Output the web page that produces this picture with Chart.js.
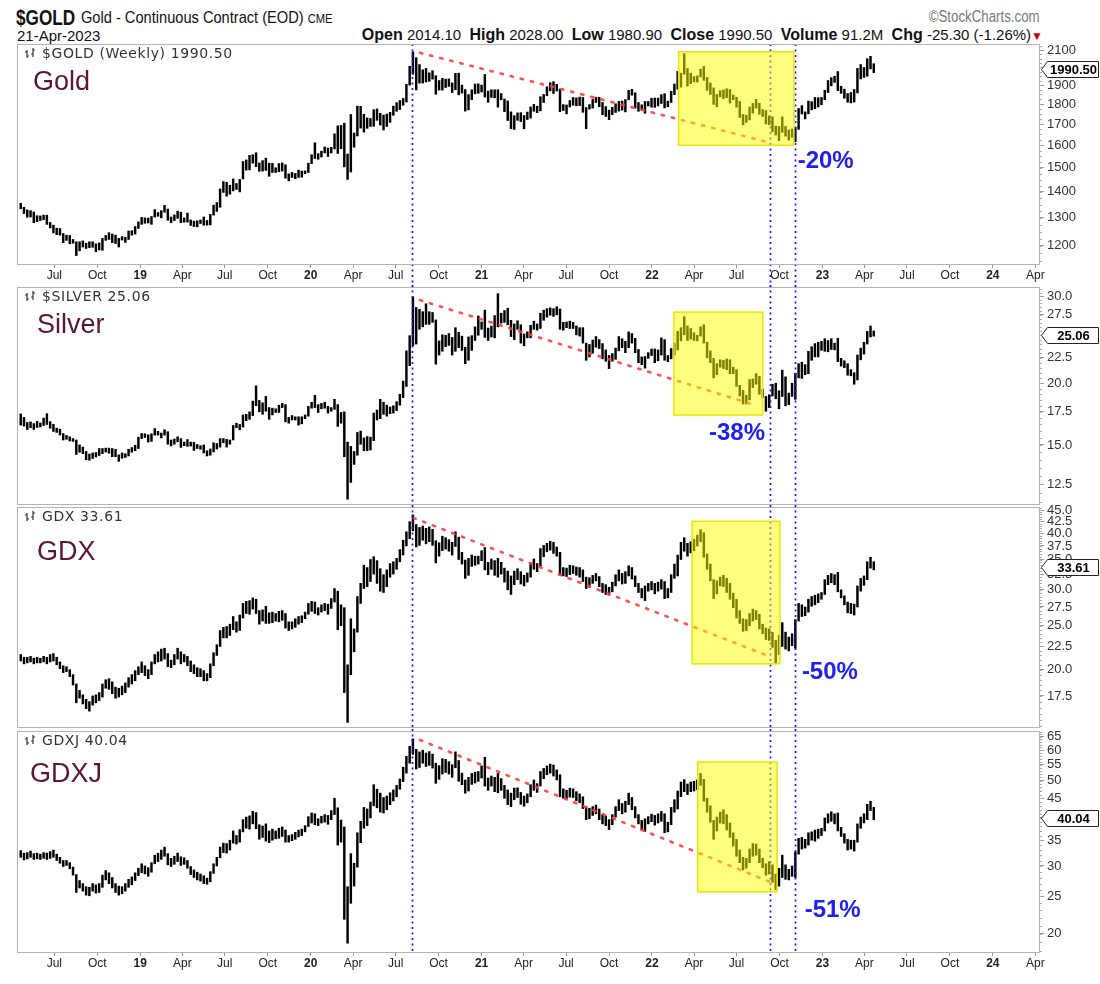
<!DOCTYPE html>
<html>
<head>
<meta charset="utf-8">
<script src="https://cdn.jsdelivr.net/npm/chart.js@4.4.1/dist/chart.umd.min.js"></script>
<style>
  body { margin: 0; background: #fff; width: 1100px; height: 984px; position: relative; overflow: hidden; }
  canvas { position: absolute; left: 0; }
  .t { position: absolute; white-space: nowrap; color: #111; font-family: "Liberation Sans", Arial, sans-serif; }
  .t b { font-weight: bold; }
</style>
</head>
<body>
<div class="t" style="left:16px;top:5px;font-size:22px;font-weight:bold;transform:scaleX(0.78);transform-origin:left top">$GOLD</div>
<div class="t" style="left:81px;top:8px;font-size:17px;transform:scaleX(0.86);transform-origin:left top">Gold - Continuous Contract (EOD) <span style="font-size:13px">CME</span></div>
<div class="t" style="right:60px;top:8px;font-size:16px;color:#777;transform:scaleX(0.83);transform-origin:right top">©StockCharts.com</div>
<div class="t" style="left:17px;top:27px;font-size:15px">21-Apr-2023</div>
<div class="t" style="right:57px;top:26px;font-size:15px"><b style="font-size:16px">Open</b> 2014.10&nbsp; <b style="font-size:16px">High</b> 2028.00&nbsp; <b style="font-size:16px">Low</b> 1980.90&nbsp; <b style="font-size:16px">Close</b> 1990.50&nbsp; <b style="font-size:16px">Volume</b> 91.2M&nbsp; <b style="font-size:16px">Chg</b> -25.30 (-1.26%)<span style="color:#c00;font-size:12px">&#9660;</span></div>

<canvas id="c1"></canvas>
<canvas id="c2"></canvas>
<canvas id="c3"></canvas>
<canvas id="c4"></canvas>

<script>
// ---- weekly bars, [low, high], first bar is the week ending 2018-04-20 ----
const firstWeek = '2018-04-20';

const goldHL = [
  [1334,1355],[1316,1340],[1302,1330],[1303,1327],[1282,1322],[1286,1308],[1290,1307],[1293,1310],[1276,1310],[1263,1283],
  [1245,1273],[1239,1262],[1237,1261],[1211,1243],[1219,1237],[1207,1236],[1209,1222],[1167,1214],[1183,1214],[1196,1217],
  [1191,1209],[1194,1214],[1195,1214],[1180,1207],[1186,1210],[1185,1226],[1219,1236],[1222,1246],[1211,1241],[1208,1237],
  [1196,1226],[1220,1232],[1212,1230],[1222,1252],[1237,1253],[1241,1268],[1261,1285],[1276,1302],[1280,1300],[1281,1299],
  [1276,1305],[1303,1331],[1306,1320],[1300,1327],[1321,1347],[1291,1333],[1282,1303],[1290,1311],[1298,1325],[1282,1321],
  [1284,1300],[1284,1318],[1272,1292],[1268,1288],[1267,1289],[1279,1292],[1273,1303],[1273,1290],[1274,1313],[1310,1348],
  [1324,1358],[1340,1412],[1398,1442],[1383,1439],[1391,1427],[1404,1453],[1410,1434],[1400,1451],[1453,1527],[1490,1534],
  [1491,1554],[1520,1557],[1505,1566],[1485,1521],[1486,1531],[1489,1542],[1464,1520],[1480,1519],[1480,1500],[1483,1518],
  [1486,1521],[1456,1513],[1445,1474],[1459,1480],[1454,1476],[1459,1490],[1460,1486],[1475,1487],[1480,1520],[1518,1557],
  [1540,1611],[1537,1562],[1547,1573],[1565,1592],[1549,1587],[1565,1590],[1583,1653],[1563,1691],[1584,1693],[1504,1704],
  [1451,1560],[1482,1747],[1591,1657],[1643,1789],[1680,1788],[1661,1748],[1679,1730],[1688,1727],[1689,1771],[1718,1775],
  [1695,1753],[1671,1744],[1688,1749],[1708,1758],[1743,1789],[1763,1807],[1772,1818],[1794,1829],[1810,1904],[1900,2005],
  [1960,2089],[1874,2055],[1911,2015],[1911,1985],[1917,1993],[1921,1968],[1933,1980],[1851,1952],[1873,1925],[1873,1937],
  [1887,1933],[1893,1934],[1860,1912],[1875,1965],[1848,1966],[1857,1900],[1764,1876],[1770,1849],[1823,1875],[1853,1906],
  [1856,1907],[1863,1900],[1836,1959],[1809,1868],[1834,1875],[1832,1875],[1784,1875],[1822,1855],[1761,1826],[1717,1816],
  [1677,1760],[1674,1741],[1718,1755],[1712,1756],[1677,1742],[1722,1759],[1729,1785],[1763,1798],[1756,1789],[1765,1838],
  [1808,1850],[1843,1891],[1869,1913],[1855,1919],[1868,1904],[1761,1879],[1767,1797],[1750,1795],[1785,1818],[1794,1834],
  [1791,1832],[1792,1836],[1758,1834],[1677,1782],[1774,1797],[1779,1824],[1808,1834],[1786,1835],[1746,1808],[1737,1787],
  [1721,1769],[1746,1783],[1757,1801],[1764,1814],[1769,1815],[1760,1823],[1822,1872],[1846,1877],[1779,1859],[1763,1808],
  [1770,1796],[1753,1813],[1790,1813],[1784,1830],[1783,1831],[1790,1831],[1803,1849],[1780,1854],[1786,1815],[1808,1866],
  [1849,1906],[1878,1976],[1889,1966],[1960,2078],[1895,1992],[1908,1966],[1918,1947],[1917,1951],[1945,1989],[1926,2004],
  [1872,1942],[1850,1912],[1798,1885],[1786,1850],[1837,1870],[1828,1874],[1833,1880],[1805,1876],[1822,1847],[1784,1835],
  [1732,1813],[1696,1747],[1708,1743],[1720,1784],[1754,1803],[1779,1824],[1748,1804],[1737,1772],[1700,1767],[1697,1740],
  [1663,1735],[1647,1690],[1621,1688],[1660,1735],[1642,1688],[1623,1671],[1636,1676],[1616,1683],[1674,1777],[1749,1792],
  [1725,1760],[1750,1815],[1770,1812],[1776,1834],[1785,1833],[1796,1834],[1823,1872],[1860,1925],[1896,1941],[1915,1949],
  [1870,1975],[1856,1894],[1830,1878],[1809,1855],[1806,1860],[1810,1876],[1858,1993],[1934,2015],[1942,1998],[1949,2049],
  [1990,2063],[1969,2020]
];

const silverHL = [
  [16.45,17.33],[16.37,17.05],[16.11,16.66],[16.25,16.70],[16.12,16.57],[16.27,16.75],[16.31,16.62],[16.42,17.00],[16.50,17.35],[16.21,16.72],
  [15.97,16.52],[15.90,16.22],[15.71,16.15],[15.35,15.82],[15.40,15.68],[15.28,15.58],[15.25,15.45],[14.35,15.35],[14.50,15.00],[14.40,14.85],
  [14.00,14.55],[13.97,14.38],[14.08,14.45],[14.18,14.48],[14.28,14.75],[14.40,14.75],[14.51,14.78],[14.43,14.78],[14.20,14.75],[14.20,14.70],
  [13.90,14.32],[14.10,14.45],[14.15,14.40],[14.25,14.70],[14.50,14.82],[14.60,14.98],[14.75,15.55],[15.45,15.82],[15.53,15.80],[15.20,15.72],
  [15.25,15.80],[15.70,16.19],[15.70,15.98],[15.50,15.85],[15.70,16.10],[15.05,15.95],[14.93,15.35],[15.05,15.42],[15.22,15.58],[14.83,15.45],
  [14.95,15.20],[14.90,15.38],[14.92,15.20],[14.62,15.18],[14.75,15.03],[14.70,14.95],[14.45,15.00],[14.25,14.60],[14.30,14.72],[14.52,15.15],
  [14.72,15.10],[14.85,15.45],[15.15,15.45],[14.85,15.40],[15.05,15.35],[15.35,16.42],[16.25,16.60],[16.10,16.50],[16.30,17.25],[16.80,17.30],
  [16.90,17.50],[17.20,18.40],[18.00,19.75],[17.50,18.45],[17.30,18.25],[17.55,18.80],[16.90,17.85],[17.25,17.80],[17.45,17.75],[17.45,18.05],
  [17.85,18.20],[16.70,18.10],[16.60,17.05],[16.85,17.20],[16.85,17.10],[16.45,17.10],[16.55,17.10],[16.95,17.25],[17.15,17.95],[17.80,18.30],
  [17.85,18.90],[17.45,18.10],[17.75,18.20],[17.80,18.30],[17.40,17.95],[17.55,17.85],[17.70,18.55],[16.35,18.10],[16.60,17.45],[14.20,17.50],
  [11.65,15.20],[12.60,14.90],[13.70,14.55],[14.30,15.90],[15.05,16.00],[14.60,15.50],[14.60,15.60],[14.65,15.55],[15.30,17.40],[16.85,17.65],
  [16.95,18.55],[17.30,18.30],[17.15,18.05],[17.35,17.90],[17.40,18.00],[17.60,18.35],[18.05,19.00],[18.70,20.20],[19.70,23.25],[21.70,24.95],
  [23.80,29.90],[24.00,28.45],[25.70,28.20],[26.00,27.90],[26.30,28.95],[26.30,27.90],[26.55,27.80],[21.85,26.85],[22.80,24.35],[23.20,25.05],
  [23.70,25.00],[23.85,25.20],[22.80,24.75],[23.20,25.90],[23.60,25.35],[23.30,24.90],[21.90,23.65],[22.25,24.80],[23.30,24.95],[24.40,26.00],
  [25.00,27.35],[25.70,26.60],[24.75,28.10],[24.40,25.85],[24.80,26.10],[24.70,27.40],[26.00,30.35],[26.45,27.70],[26.55,28.05],[26.25,28.35],
  [24.85,26.80],[24.50,26.35],[25.70,26.75],[24.10,26.25],[23.80,25.15],[24.70,25.40],[24.70,26.20],[25.70,26.70],[25.60,26.35],[25.80,27.70],
  [26.80,28.10],[27.20,28.30],[27.45,28.40],[27.30,28.30],[27.50,28.55],[25.70,28.25],[25.60,26.55],[25.90,26.60],[25.80,26.70],[25.80,26.55],
  [25.05,26.10],[24.90,25.90],[24.10,25.90],[22.25,24.10],[22.60,23.95],[23.00,24.45],[23.65,24.85],[23.50,24.50],[22.40,24.05],[22.15,23.35],
  [21.40,22.75],[22.15,22.95],[22.35,23.55],[23.25,24.85],[23.60,24.60],[23.05,24.30],[23.60,25.40],[24.10,25.20],[23.05,24.65],[22.00,23.40],
  [21.80,22.60],[21.45,22.65],[22.45,23.05],[22.75,23.45],[22.00,23.45],[22.20,23.35],[22.80,24.70],[22.25,24.50],[22.10,22.75],[22.40,23.50],
  [22.80,24.10],[23.35,25.45],[24.35,25.90],[25.05,27.25],[24.40,26.10],[24.55,25.80],[24.40,25.30],[24.35,25.00],[24.90,26.00],[24.10,26.25],
  [22.50,24.20],[22.00,23.25],[20.50,22.45],[20.80,21.90],[21.55,22.30],[21.40,22.25],[21.30,22.40],[20.90,22.30],[20.90,21.55],[19.70,21.30],
  [18.85,19.80],[18.15,19.35],[18.15,18.90],[18.50,20.35],[19.60,20.40],[19.90,20.90],[19.00,20.65],[18.70,19.45],[17.55,18.80],[17.85,18.95],
  [18.85,19.90],[18.60,20.00],[17.75,19.30],[18.80,21.25],[18.00,20.60],[18.10,19.10],[18.80,20.00],[18.55,20.95],[20.50,21.90],[20.45,22.05],
  [20.80,21.80],[20.90,23.20],[22.25,23.70],[22.60,24.05],[22.60,24.20],[23.30,24.30],[23.20,24.60],[23.15,24.40],[23.40,24.60],[23.35,24.10],
  [22.10,24.65],[21.65,22.45],[21.50,22.20],[20.75,21.90],[20.70,21.30],[19.90,21.00],[20.30,22.80],[22.30,23.55],[22.90,24.20],[24.00,25.45],
  [24.80,26.10],[24.90,25.50]
];

const gdxHL = [
  [20.9,21.6],[20.6,21.3],[20.7,21.3],[20.8,21.4],[20.6,21.2],[20.7,21.3],[20.7,21.2],[20.8,21.4],[20.6,21.3],[20.8,21.6],
  [20.9,21.7],[20.5,21.3],[20.1,20.8],[19.7,20.4],[19.8,20.3],[19.3,20.0],[18.5,19.5],[16.9,18.6],[17.3,18.0],[16.8,17.6],
  [16.4,17.2],[16.2,17.0],[16.7,17.5],[16.9,17.6],[17.1,17.8],[17.4,18.6],[18.2,19.0],[18.1,19.1],[17.7,18.8],[17.3,18.3],
  [17.4,18.2],[17.6,18.4],[17.8,18.7],[18.3,19.2],[18.6,19.5],[18.9,19.9],[19.5,20.3],[19.7,20.8],[19.4,20.4],[19.1,20.0],
  [19.5,20.8],[20.6,21.6],[20.8,21.9],[20.9,22.2],[21.1,22.3],[20.3,21.7],[20.2,21.0],[20.5,21.6],[21.1,22.3],[20.6,21.9],
  [20.8,21.6],[20.4,21.4],[19.8,20.9],[19.6,20.5],[19.3,20.2],[19.3,20.1],[18.9,19.9],[18.9,19.6],[19.2,20.6],[20.4,21.8],
  [21.5,22.7],[22.5,24.4],[23.5,24.8],[23.5,24.9],[23.8,25.2],[24.5,26.2],[24.2,25.5],[24.4,26.4],[26.0,28.0],[26.6,28.3],
  [26.5,28.4],[27.2,28.8],[26.6,28.6],[25.2,27.0],[25.6,27.1],[25.3,27.6],[25.3,26.7],[25.4,26.8],[25.6,26.6],[25.5,26.9],
  [25.7,27.0],[24.7,26.6],[24.4,25.5],[24.6,25.5],[24.8,25.9],[25.2,26.2],[25.4,26.3],[25.9,26.8],[26.5,28.0],[26.9,28.3],
  [26.6,28.2],[26.4,27.4],[26.8,27.8],[27.0,28.0],[26.5,27.9],[27.3,28.7],[28.2,30.2],[24.5,29.8],[25.0,27.8],[17.8,27.4],
  [15.3,20.5],[19.5,25.9],[21.9,24.6],[24.2,29.0],[28.0,31.0],[30.2,34.0],[30.5,33.6],[31.3,35.0],[32.5,35.5],[31.0,34.8],
  [29.8,33.4],[29.6,32.4],[30.5,33.2],[32.0,34.3],[32.5,34.6],[33.3,35.2],[34.6,36.8],[35.8,38.6],[37.5,40.3],[38.9,42.4],
  [40.5,43.9],[37.3,41.8],[37.6,41.2],[38.6,41.5],[37.9,41.0],[38.3,41.3],[37.6,40.8],[34.4,38.5],[35.6,38.1],[36.6,39.4],
  [36.9,39.1],[36.5,38.7],[35.8,38.2],[37.4,40.3],[35.0,39.2],[34.2,36.3],[31.8,34.9],[32.3,35.2],[33.8,35.8],[34.0,35.6],
  [34.2,35.6],[34.8,36.6],[33.2,37.2],[32.4,34.5],[33.3,35.1],[32.3,34.8],[32.0,35.2],[32.5,34.5],[31.2,33.5],[30.0,33.0],
  [29.3,32.2],[30.8,33.0],[31.6,33.4],[30.9,32.9],[30.6,32.3],[31.2,32.7],[32.0,34.4],[33.3,35.1],[32.9,34.3],[33.8,37.0],
  [35.5,37.6],[36.4,38.0],[36.7,38.4],[36.1,38.2],[35.6,37.3],[32.3,36.3],[32.2,33.6],[32.1,33.5],[32.4,34.0],[32.6,33.9],
  [32.3,33.7],[32.0,33.6],[31.3,33.2],[30.2,32.0],[30.4,31.9],[31.0,32.3],[31.4,32.6],[30.5,32.1],[29.6,31.0],[29.3,30.8],
  [29.2,30.4],[29.7,31.2],[30.6,32.4],[31.4,33.2],[30.9,32.6],[31.0,32.9],[32.2,33.9],[31.7,33.6],[30.5,32.2],[29.6,31.0],
  [28.8,30.2],[28.4,30.6],[29.8,31.0],[30.0,31.3],[29.4,31.0],[29.8,31.2],[30.1,31.6],[28.7,31.3],[28.8,30.2],[29.6,32.4],
  [31.8,34.2],[32.2,35.8],[35.0,38.2],[36.5,39.1],[35.6,38.0],[36.2,38.3],[36.6,38.8],[37.5,39.6],[38.3,40.7],[35.4,40.1],
  [33.3,36.0],[31.4,34.2],[28.7,31.6],[29.4,31.4],[30.6,32.0],[30.5,32.3],[29.6,31.8],[28.6,31.0],[27.4,29.5],[26.0,28.6],
  [25.3,27.0],[24.3,25.9],[24.4,25.8],[25.0,26.6],[25.6,27.2],[25.8,27.0],[24.6,26.5],[24.0,25.2],[23.3,24.7],[23.2,24.6],
  [22.4,24.2],[20.7,23.2],[21.6,23.8],[22.5,25.4],[22.2,24.2],[22.0,23.6],[22.6,24.0],[22.3,25.8],[25.6,28.0],[26.2,27.8],
  [26.3,27.5],[26.8,28.6],[27.6,29.0],[27.8,29.2],[28.1,29.4],[28.6,29.6],[29.3,31.6],[30.8,32.3],[31.1,32.6],[30.8,32.4],
  [29.7,32.8],[28.8,30.0],[27.8,29.1],[26.7,28.2],[26.6,28.0],[26.4,27.9],[27.5,30.6],[29.8,31.8],[30.7,32.2],[31.6,34.6],
  [33.5,35.4],[33.2,34.6]
];

const gdxjHL = [
  [31.6,32.9],[31.1,32.4],[31.3,32.5],[31.6,32.8],[31.2,32.3],[31.3,32.4],[31.2,32.2],[31.4,32.5],[31.2,32.4],[31.4,32.7],
  [31.6,33.0],[31.0,32.2],[30.5,31.6],[29.9,31.0],[30.1,31.0],[29.5,30.6],[28.4,29.8],[25.6,28.5],[26.3,27.5],[25.8,27.0],
  [25.2,26.5],[25.1,26.4],[25.8,27.0],[25.5,26.8],[25.6,27.0],[26.4,28.4],[27.6,29.2],[27.0,28.8],[26.3,28.0],[25.6,27.0],
  [25.2,26.6],[25.4,26.5],[25.8,27.0],[26.4,27.7],[26.8,28.1],[27.5,28.8],[28.3,29.6],[28.8,30.4],[28.6,30.0],[28.2,29.7],
  [28.9,30.6],[30.4,32.0],[30.8,32.4],[31.2,33.0],[31.8,33.6],[30.2,32.3],[29.9,31.4],[30.3,31.8],[30.8,32.4],[30.1,31.7],
  [30.3,31.5],[29.6,31.0],[28.5,29.9],[28.0,29.3],[27.6,28.9],[27.4,28.6],[27.0,28.3],[26.9,27.9],[27.3,29.0],[28.7,30.4],
  [30.0,31.6],[31.5,33.6],[32.5,34.4],[32.4,34.3],[33.0,35.0],[34.4,37.0],[34.2,36.0],[34.6,37.3],[36.8,39.6],[37.6,40.2],
  [37.4,40.5],[38.6,41.6],[37.5,41.3],[35.2,38.4],[35.6,38.1],[34.8,38.6],[34.5,37.0],[35.0,37.4],[35.3,37.0],[35.4,37.6],
  [35.8,37.9],[34.6,37.2],[34.6,36.0],[34.9,36.2],[35.2,36.7],[35.7,37.2],[36.0,37.4],[36.8,38.2],[38.0,40.3],[38.8,41.2],
  [38.4,41.0],[38.2,39.8],[38.8,40.4],[39.0,40.8],[38.5,40.6],[39.6,41.8],[40.8,45.0],[34.0,42.5],[34.6,39.5],[21.8,37.9],
  [18.9,26.5],[24.0,32.3],[26.6,30.5],[29.8,36.6],[34.5,39.2],[37.6,42.6],[38.2,42.2],[40.0,44.0],[43.0,48.8],[42.5,47.5],
  [41.4,46.4],[41.2,45.2],[42.0,45.6],[43.3,46.5],[44.3,47.3],[45.4,48.6],[47.5,50.5],[49.7,54.2],[52.3,57.8],[55.5,61.4],
  [58.5,64.2],[53.6,60.3],[54.1,59.4],[55.5,60.0],[54.4,59.0],[54.8,59.5],[53.9,58.6],[49.2,55.5],[50.4,54.7],[52.0,57.0],
  [52.5,56.8],[52.0,56.0],[51.0,55.0],[54.0,59.4],[49.8,56.4],[48.8,52.3],[46.4,50.2],[47.0,51.0],[48.9,52.2],[49.3,52.6],
  [49.8,52.8],[50.8,54.6],[48.4,57.5],[47.2,50.8],[48.4,51.4],[46.8,51.0],[46.5,52.2],[47.2,50.6],[45.0,48.6],[43.3,47.3],
  [42.8,46.4],[44.6,47.8],[45.2,47.9],[43.4,46.6],[42.9,45.6],[43.8,46.2],[45.4,48.8],[47.2,50.2],[46.6,49.1],[48.4,52.8],
  [50.6,53.8],[51.8,54.6],[52.3,55.2],[51.4,54.9],[50.2,53.3],[45.4,51.8],[45.0,47.6],[44.8,47.2],[45.3,47.8],[45.2,47.6],
  [44.3,46.8],[43.8,46.2],[42.3,45.4],[39.6,42.8],[39.8,42.4],[40.6,42.8],[41.0,43.2],[39.6,42.2],[38.6,40.8],[38.2,40.4],
  [37.3,39.6],[38.4,40.8],[40.2,42.8],[41.8,44.6],[41.0,43.6],[41.4,44.2],[43.3,46.4],[42.0,45.2],[40.0,42.8],[38.6,40.8],
  [37.2,39.4],[36.9,39.8],[38.6,40.3],[39.1,40.9],[38.3,40.6],[38.8,41.0],[39.2,41.6],[36.6,41.0],[36.8,39.0],[38.4,42.6],
  [41.4,44.6],[42.2,47.0],[45.4,49.6],[46.8,50.3],[46.0,49.0],[46.8,49.6],[47.0,49.8],[47.4,50.2],[48.6,52.2],[44.2,50.4],
  [41.4,45.0],[39.0,43.0],[35.2,39.4],[37.0,40.2],[38.8,41.4],[38.6,42.0],[37.2,40.8],[35.6,38.8],[33.8,36.6],[31.8,35.2],
  [30.6,33.0],[29.3,31.6],[29.6,31.4],[30.6,33.2],[31.8,34.3],[32.0,34.2],[30.6,33.2],[29.7,31.4],[28.4,30.4],[28.6,30.8],
  [27.2,30.2],[26.0,28.6],[26.6,29.6],[28.0,32.0],[27.7,30.2],[27.6,29.4],[28.2,30.0],[28.0,32.6],[32.2,35.4],[33.2,35.6],
  [33.4,35.2],[34.0,36.6],[35.0,36.8],[34.8,37.2],[35.4,37.4],[36.0,37.6],[37.0,40.0],[38.8,41.0],[39.2,41.5],[38.6,41.0],
  [37.0,41.2],[35.8,37.8],[34.4,36.4],[33.0,35.2],[33.2,35.0],[32.8,35.0],[34.6,38.6],[37.6,40.2],[38.8,41.0],[39.6,43.4],
  [41.8,44.2],[39.6,42.6]
];

// last closes (price tags / panel titles)
const lastClose = [1990.50, 25.06, 33.61, 40.04];

// right-axis tick values and minor tick steps
const goldTicks = [1200, 1300, 1400, 1500, 1600, 1700, 1800, 1900, 2000, 2100];
const silverTicks = [12.5, 15, 17.5, 20, 22.5, 25, 27.5, 30];
const gdxTicks = [17.5, 20, 22.5, 25, 27.5, 30, 32.5, 35, 37.5, 40, 42.5, 45];
const gdxjTicks = [20, 25, 30, 35, 40, 45, 50, 55, 60, 65];
const minorSteps = [25, 0.5, 0.5, 1];

// bottom axis
const xTickDates = ['2018-07-01','2018-10-01','2019-01-01','2019-04-01','2019-07-01','2019-10-01','2020-01-01','2020-04-01',
  '2020-07-01','2020-10-01','2021-01-01','2021-04-01','2021-07-01','2021-10-01','2022-01-01','2022-04-01','2022-07-01',
  '2022-10-01','2023-01-01','2023-04-01','2023-07-01','2023-10-01','2024-01-01','2024-04-01'];
const xTickLabels = ['Jul','Oct','19','Apr','Jul','Oct','20','Apr','Jul','Oct','21','Apr','Jul','Oct','22','Apr','Jul',
  'Oct','23','Apr','Jul','Oct','24','Apr'];
const viewRange = ['2018-04-12', '2024-04-11'];

// annotations
const markerDates = ['2020-08-05', '2022-09-10', '2022-11-04'];
// box: [from, to, low, high]
const goldBox = ['2022-02-27', '2022-11-01', 1600, 2090];
const silverBox = ['2022-02-17', '2022-08-26', 17.24, 27.85];
const gdxBox = ['2022-03-28', '2022-10-02', 20.6, 42.5];
const gdxjBox = ['2022-04-09', '2022-09-26', 25.7, 55.9];
// trend line: [from, price, to, price]
const goldTrend = ['2020-08-22', 2084, '2022-08-30', 1618];
const silverTrend = ['2020-08-22', 29.45, '2022-08-09', 18.06];
const gdxTrend = ['2020-08-08', 43.25, '2022-09-10', 21.39];
const gdxjTrend = ['2020-08-22', 63.8, '2022-09-10', 27.3];
// percent labels: [text, date, price]
const goldPct = ['-20%', '2022-11-09', 1501];
const silverPct = ['-38%', '2022-05-03', 15.34];
const gdxPct = ['-50%', '2022-11-18', 19.09];
const gdxjPct = ['-51%', '2022-11-24', 22.1];

// ---------------------------------------------------------------
const DAY0 = Date.UTC(2018, 0, 1);
function dayOf(s) {
  const p = s.split('-').map(Number);
  return (Date.UTC(p[0], p[1] - 1, p[2]) - DAY0) / 864e5;
}
const week0 = dayOf(firstWeek);
const SANS = '"Liberation Sans", Arial, sans-serif';

function overlay(p) {
  return {
    id: 'overlay' + p.id,
    afterDatasetsDraw(chart) {
      const ctx = chart.ctx, a = chart.chartArea, x = chart.scales.x, y = chart.scales.y;
      ctx.save();
      // blue dotted verticals
      ctx.strokeStyle = '#1414ff';
      ctx.lineWidth = 1.7;
      ctx.setLineDash([2, 3.5]);
      markerDates.forEach(d => {
        const px = Math.round(x.getPixelForValue(dayOf(d))) + 0.5;
        ctx.beginPath();
        ctx.moveTo(px, a.top + p.lineTop);
        ctx.lineTo(px, a.bottom + p.lineBottom);
        ctx.stroke();
      });
      ctx.setLineDash([]);
      // yellow box
      const b = p.box;
      const x0 = x.getPixelForValue(dayOf(b[0])), x1 = x.getPixelForValue(dayOf(b[1]));
      const y0 = y.getPixelForValue(b[3]), y1 = y.getPixelForValue(b[2]);
      ctx.fillStyle = 'rgba(255,255,0,0.5)';
      ctx.fillRect(x0, y0, x1 - x0, y1 - y0);
      ctx.strokeStyle = '#e6e600';
      ctx.lineWidth = 1.5;
      ctx.strokeRect(x0, y0, x1 - x0, y1 - y0);
      ctx.restore();
    },
    afterDraw(chart) {
      const ctx = chart.ctx, a = chart.chartArea, x = chart.scales.x, y = chart.scales.y;
      ctx.save();
      // panel frame
      ctx.strokeStyle = '#b4b4b4';
      ctx.lineWidth = 1;
      ctx.strokeRect(Math.round(a.left) + 0.5, Math.round(a.top) + 0.5, Math.round(a.width) - 1, Math.round(a.height) - 1);
      // minor ticks on the price axis
      ctx.strokeStyle = '#aaa';
      ctx.beginPath();
      const step = p.minor;
      for (let v = Math.ceil(y.min / step) * step; v <= y.max; v += step) {
        const py = Math.round(y.getPixelForValue(v)) + 0.5;
        ctx.moveTo(a.right, py);
        ctx.lineTo(a.right + 2, py);
      }
      ctx.stroke();
      // small ohlc icon + title
      const ix = a.left + 8, iy = a.top + 4;
      ctx.strokeStyle = '#333';
      ctx.lineWidth = 1.2;
      ctx.beginPath();
      ctx.moveTo(ix + 2, iy + 2); ctx.lineTo(ix + 2, iy + 10);
      ctx.moveTo(ix, iy + 4); ctx.lineTo(ix + 2, iy + 4);
      ctx.moveTo(ix + 2, iy + 8); ctx.lineTo(ix + 4, iy + 8);
      ctx.moveTo(ix + 8, iy); ctx.lineTo(ix + 8, iy + 9);
      ctx.moveTo(ix + 6, iy + 6); ctx.lineTo(ix + 8, iy + 6);
      ctx.moveTo(ix + 8, iy + 2); ctx.lineTo(ix + 10, iy + 2);
      ctx.stroke();
      ctx.fillStyle = '#333';
      ctx.font = '14px "DejaVu Sans", Verdana, sans-serif';
      ctx.letterSpacing = '0.6px';
      ctx.textBaseline = 'alphabetic';
      ctx.fillText(p.title, a.left + 25, a.top + 14);
      ctx.letterSpacing = '0px';
      // big name
      ctx.fillStyle = '#5a1632';
      ctx.font = '27px ' + SANS;
      ctx.fillText(p.name, a.left + p.nameDx, a.top + p.nameDy);
      // percent label
      ctx.fillStyle = '#2020ee';
      ctx.font = 'bold 24px ' + SANS;
      ctx.fillText(p.pct[0], x.getPixelForValue(dayOf(p.pct[1])), y.getPixelForValue(p.pct[2]));
      // last price tag
      const ty = Math.round(y.getPixelForValue(p.last)) + 0.5, tx = a.right + 1.5;
      ctx.beginPath();
      ctx.moveTo(tx, ty);
      ctx.lineTo(tx + 6, ty - 8);
      ctx.lineTo(tx + 57, ty - 8);
      ctx.lineTo(tx + 57, ty + 8);
      ctx.lineTo(tx + 6, ty + 8);
      ctx.closePath();
      ctx.fillStyle = '#fff';
      ctx.fill();
      ctx.strokeStyle = '#222';
      ctx.lineWidth = 1;
      ctx.stroke();
      ctx.fillStyle = '#000';
      ctx.font = 'bold 13px ' + SANS;
      ctx.textBaseline = 'middle';
      ctx.textAlign = 'center';
      ctx.fillText(p.fmt(p.last), tx + 32, ty + 1);
      ctx.restore();
    }
  };
}

function panel(p) {
  const cv = document.getElementById(p.id);
  cv.width = 1100;
  cv.height = p.height;
  cv.style.top = p.top + 'px';
  cv.style.width = '1100px';
  cv.style.height = p.height + 'px';
  const t = p.trend;
  return new Chart(cv, {
    type: 'bar',
    data: {
      datasets: [
        {
          type: 'line',
          data: [{ x: dayOf(t[0]), y: t[1] }, { x: dayOf(t[2]), y: t[3] }],
          borderColor: 'rgba(255,60,60,0.9)',
          borderWidth: 2.6,
          borderDash: [2.4, 8],
          borderCapStyle: 'round',
          pointRadius: 0,
          order: 1
        },
        {
          type: 'bar',
          data: p.bars.map((v, i) => ({ x: week0 + 7 * i, y: v })),
          backgroundColor: '#000',
          borderWidth: 0,
          barThickness: 1.8,
          order: 2
        }
      ]
    },
    options: {
      responsive: false,
      animation: false,
      events: [],
      layout: { padding: { left: 17, right: 0, top: 6, bottom: 0 } },
      plugins: { legend: { display: false }, tooltip: { enabled: false } },
      scales: {
        x: {
          type: 'linear',
          display: p.showX,
          offset: false,
          min: dayOf(viewRange[0]),
          max: dayOf(viewRange[1]),
          afterBuildTicks: s => { s.ticks = xTickDates.map(d => ({ value: dayOf(d) })); },
          afterFit: s => { s.height = p.showX ? 22 : 0; s.paddingLeft = 0; s.paddingRight = 0; },
          ticks: {
            autoSkip: false,
            maxRotation: 0,
            padding: 0,
            color: '#222',
            callback: (v, i) => xTickLabels[i],
            font: c => ({ family: SANS, size: 12, weight: /^\d+$/.test(xTickLabels[c.index]) ? 'bold' : 'normal' })
          },
          grid: { drawOnChartArea: false, offset: false, tickLength: 3, color: '#999' },
          border: { display: false }
        },
        y: {
          type: 'logarithmic',
          position: 'right',
          min: p.min,
          max: p.max,
          afterBuildTicks: s => { s.ticks = p.ticks.map(v => ({ value: v })); },
          afterFit: s => { s.width = 60; s.paddingTop = 0; s.paddingBottom = 0; },
          ticks: {
            autoSkip: false,
            padding: 3,
            color: '#333',
            font: { family: SANS, size: 13 },
            callback: v => p.fmt(v)
          },
          grid: { drawOnChartArea: false, tickLength: 4, color: '#999' },
          border: { display: false }
        }
      }
    },
    plugins: [overlay(p)]
  });
}

const int0 = v => v.toFixed(0);
const dec1 = v => v.toFixed(1);
const dec2 = v => v.toFixed(2);

panel({ id: 'c1', top: 38, height: 249, showX: true, bars: goldHL, min: 1136, max: 2137, ticks: goldTicks, minor: minorSteps[0],
  fmt: v => (v === lastClose[0] ? dec2(v) : int0(v)), last: lastClose[0],
  title: '$GOLD (Weekly) ' + dec2(lastClose[0]), name: 'Gold', nameDx: 16, nameDy: 46,
  box: goldBox, trend: goldTrend, pct: goldPct, lineTop: 0, lineBottom: 23 });
panel({ id: 'c2', top: 281, height: 224, showX: false, bars: silverHL, min: 11.34, max: 31.3, ticks: silverTicks, minor: minorSteps[1],
  fmt: v => (v === lastClose[1] ? dec2(v) : dec1(v)), last: lastClose[1],
  title: '$SILVER ' + dec2(lastClose[1]), name: 'Silver', nameDx: 20, nameDy: 46,
  box: silverBox, trend: silverTrend, pct: silverPct, lineTop: -2, lineBottom: 2 });
panel({ id: 'c3', top: 501, height: 227, showX: false, bars: gdxHL, min: 14.87, max: 45.7, ticks: gdxTicks, minor: minorSteps[2],
  fmt: v => (v === lastClose[2] ? dec2(v) : dec1(v)), last: lastClose[2],
  title: 'GDX ' + dec2(lastClose[2]), name: 'GDX', nameDx: 20, nameDy: 53,
  box: gdxBox, trend: gdxTrend, pct: gdxPct, lineTop: -2, lineBottom: 3 });
panel({ id: 'c4', top: 725, height: 250, showX: true, bars: gdxjHL, min: 17.82, max: 67.3, ticks: gdxjTicks, minor: minorSteps[3],
  fmt: v => (v === lastClose[3] ? dec2(v) : int0(v)), last: lastClose[3],
  title: 'GDXJ ' + dec2(lastClose[3]), name: 'GDXJ', nameDx: 13, nameDy: 51,
  box: gdxjBox, trend: gdxjTrend, pct: gdxjPct, lineTop: -2, lineBottom: 0 });
</script>
</body>
</html>
